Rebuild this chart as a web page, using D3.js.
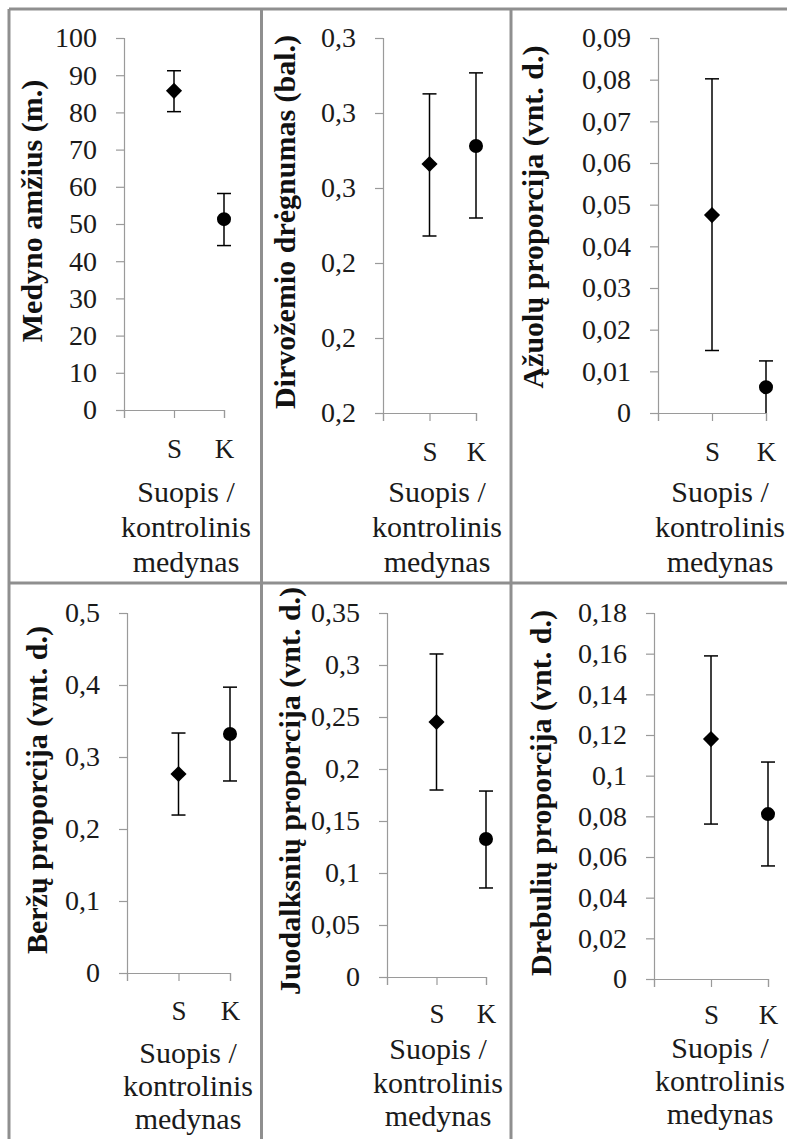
<!DOCTYPE html>
<html>
<head>
<meta charset="utf-8">
<script src="https://cdn.jsdelivr.net/npm/d3@7"></script>
<style>
  html, body { margin: 0; padding: 0; background: #fff; }
  svg { display: block; }
</style>
</head>
<body>
<div id="chart"></div>
<script>
// categories: first slot on the axis is empty, points sit on S and K
const axisCategories = ['', 'S', 'K'];
const groups = ['S', 'K'];
const xTitleLines = ['Suopis /', 'kontrolinis', 'medynas'];

const ageTicks = [0, 10, 20, 30, 40, 50, 60, 70, 80, 90, 100];
const ageTickLabels = ['0', '10', '20', '30', '40', '50', '60', '70', '80', '90', '100'];
const ageMean = [85.8, 51.3];
const ageLow = [80.2, 44.2];
const ageHigh = [91.2, 58.2];

const moistTicks = [0.2, 0.22, 0.24, 0.26, 0.28, 0.3];
const moistTickLabels = ['0,2', '0,2', '0,2', '0,3', '0,3', '0,3'];
const moistMean = [0.2664, 0.2712];
const moistLow = [0.2472, 0.252];
const moistHigh = [0.2851, 0.2907];

const oakTicks = [0, 0.01, 0.02, 0.03, 0.04, 0.05, 0.06, 0.07, 0.08, 0.09];
const oakTickLabels = ['0', '0,01', '0,02', '0,03', '0,04', '0,05', '0,06', '0,07', '0,08', '0,09'];
const oakMean = [0.0475, 0.0062];
const oakLow = [0.015, -0.0002];
const oakHigh = [0.0802, 0.0125];

const birchTicks = [0, 0.1, 0.2, 0.3, 0.4, 0.5];
const birchTickLabels = ['0', '0,1', '0,2', '0,3', '0,4', '0,5'];
const birchMean = [0.2764, 0.3319];
const birchLow = [0.2194, 0.2667];
const birchHigh = [0.3333, 0.397];

const alderTicks = [0, 0.05, 0.1, 0.15, 0.2, 0.25, 0.3, 0.35];
const alderTickLabels = ['0', '0,05', '0,1', '0,15', '0,2', '0,25', '0,3', '0,35'];
const alderMean = [0.2452, 0.1327];
const alderLow = [0.1798, 0.0856];
const alderHigh = [0.3106, 0.1788];

const aspenTicks = [0, 0.02, 0.04, 0.06, 0.08, 0.1, 0.12, 0.14, 0.16, 0.18];
const aspenTickLabels = ['0', '0,02', '0,04', '0,06', '0,08', '0,1', '0,12', '0,14', '0,16', '0,18'];
const aspenMean = [0.118, 0.0811];
const aspenLow = [0.0762, 0.0556];
const aspenHigh = [0.1589, 0.1067];

const panels = [
    { title: 'Medyno amžius (m.)', ticks: ageTicks, labels: ageTickLabels, mean: ageMean, low: ageLow, high: ageHigh },
    { title: 'Dirvožemio drėgnumas (bal.)', ticks: moistTicks, labels: moistTickLabels, mean: moistMean, low: moistLow, high: moistHigh },
    { title: 'Ąžuolų proporcija (vnt. d.)', ticks: oakTicks, labels: oakTickLabels, mean: oakMean, low: oakLow, high: oakHigh },
    { title: 'Beržų proporcija (vnt. d.)', ticks: birchTicks, labels: birchTickLabels, mean: birchMean, low: birchLow, high: birchHigh },
    { title: 'Juodalksnių proporcija (vnt. d.)', ticks: alderTicks, labels: alderTickLabels, mean: alderMean, low: alderLow, high: alderHigh },
    { title: 'Drebulių proporcija (vnt. d.)', ticks: aspenTicks, labels: aspenTickLabels, mean: aspenMean, low: aspenLow, high: aspenHigh }
];

// where each panel sits on the page
const layout = [
    { ax: 124, step: 50, top: 38, bottom: 410, tx: 42, ty: 211, cx: 186, base: 502, lh: 35, pad: 21 },
    { ax: 383, step: 46.5, top: 38, bottom: 413, tx: 295, ty: 222, cx: 437, base: 502, lh: 35, pad: 21 },
    { ax: 658, step: 54, top: 38, bottom: 413, tx: 543, ty: 217, cx: 720, base: 502, lh: 35, pad: 21 },
    { ax: 127, step: 51.5, top: 613, bottom: 973, tx: 47, ty: 790, cx: 188, base: 1063, lh: 33, pad: 20 },
    { ax: 387, step: 49.5, top: 613, bottom: 977, tx: 300, ty: 791, cx: 438, base: 1059, lh: 33.5, pad: 19 },
    { ax: 654, step: 57, top: 613, bottom: 979, tx: 551, ty: 793, cx: 720, base: 1058, lh: 33, pad: 18 }
];

const serif = '"Liberation Serif", "Times New Roman", serif';
const width = 787;
const height = 1139;

const svg = d3.select('#chart')
    .append('svg')
    .attr('width', width)
    .attr('height', height);

// panel frame
const frame = svg.append('g')
    .attr('stroke', '#8f8f8f')
    .attr('stroke-width', 3)
    .attr('fill', 'none');
frame.append('line').attr('x1', 9).attr('x2', width).attr('y1', 9).attr('y2', 9);
frame.append('line').attr('x1', 9).attr('x2', width).attr('y1', 583).attr('y2', 583);
[9, 261.5, 511].forEach(x => {
    frame.append('line').attr('x1', x).attr('x2', x).attr('y1', 9).attr('y2', height);
});

panels.forEach((p, i) => {
    const l = layout[i];
    const g = svg.append('g');

    const x = d3.scalePoint()
        .domain(axisCategories)
        .range([l.ax, l.ax + 2 * l.step]);

    const y = d3.scaleLinear()
        .domain([p.ticks[0], p.ticks[p.ticks.length - 1]])
        .range([l.bottom, l.top]);

    const yAxis = g.append('g')
        .attr('transform', `translate(${l.ax},0)`)
        .call(d3.axisLeft(y)
            .tickValues(p.ticks)
            .tickFormat((d, k) => p.labels[k])
            .tickSize(8)
            .tickPadding(19));

    const xAxis = g.append('g')
        .attr('transform', `translate(0,${l.bottom})`)
        .call(d3.axisBottom(x)
            .tickSize(8)
            .tickPadding(l.pad));

    [yAxis, xAxis].forEach(a => {
        a.attr('font-family', serif);
        a.selectAll('path, line').attr('stroke', '#9a9a9a').attr('stroke-width', 1.2);
        a.selectAll('text').attr('fill', '#1a1a1a').style('font-family', serif);
    });
    yAxis.selectAll('text').style('font-size', '28px');
    xAxis.selectAll('text').style('font-size', '27px');

    // y title
    g.append('text')
        .attr('transform', `translate(${l.tx},${l.ty}) rotate(-90)`)
        .attr('text-anchor', 'middle')
        .attr('fill', '#111')
        .style('font-family', serif)
        .style('font-size', '30px')
        .style('font-weight', 'bold')
        .text(p.title);

    // x title
    g.append('text')
        .attr('text-anchor', 'middle')
        .attr('fill', '#1a1a1a')
        .style('font-family', serif)
        .style('font-size', '30px')
        .selectAll('tspan')
        .data(xTitleLines)
        .join('tspan')
        .attr('x', l.cx)
        .attr('y', (d, k) => l.base + k * l.lh)
        .text(d => d);

    // error bars, clipped to plot area
    const clipId = `clip${i}`;
    svg.append('clipPath').attr('id', clipId)
        .append('rect')
        .attr('x', l.ax - 20).attr('y', l.top - 20)
        .attr('width', 2 * l.step + 40).attr('height', l.bottom - l.top + 20);

    const bars = g.append('g')
        .attr('clip-path', `url(#${clipId})`)
        .attr('stroke', '#000')
        .attr('stroke-width', 1.5);

    groups.forEach((c, k) => {
        const cxp = x(c);
        const yl = y(p.low[k]);
        const yh = y(p.high[k]);
        bars.append('line').attr('x1', cxp).attr('x2', cxp).attr('y1', yh).attr('y2', yl);
        bars.append('line').attr('x1', cxp - 7).attr('x2', cxp + 7).attr('y1', yh).attr('y2', yh);
        bars.append('line').attr('x1', cxp - 7).attr('x2', cxp + 7).attr('y1', yl).attr('y2', yl);
    });

    // markers: diamond for S, circle for K
    const marks = g.append('g').attr('fill', '#000');
    marks.append('path')
        .attr('d', d3.symbol(d3.symbolSquare, 130)())
        .attr('transform', `translate(${x('S')},${y(p.mean[0])}) rotate(45)`);
    marks.append('path')
        .attr('d', d3.symbol(d3.symbolCircle, 154)())
        .attr('transform', `translate(${x('K')},${y(p.mean[1])})`);
});
</script>
</body>
</html>
